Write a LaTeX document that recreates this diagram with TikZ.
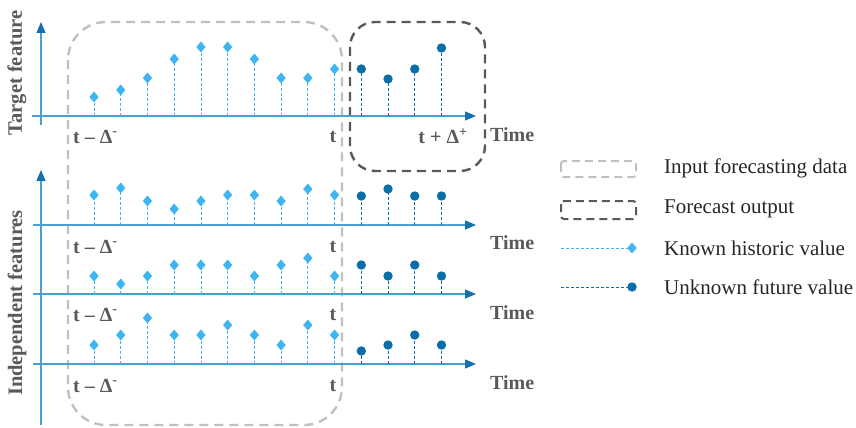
\documentclass[tikz,border=0pt]{standalone}
\usepackage{fontspec}
\setmainfont{Liberation Serif}
\usetikzlibrary{arrows.meta}
\definecolor{axisblue}{HTML}{4A9FD3}
\definecolor{arrowblue}{HTML}{1570AE}
\definecolor{knownblue}{HTML}{3DB5F2}
\definecolor{futureblue}{HTML}{0A6FA8}
\definecolor{lightbox}{HTML}{C0C0C0}
\definecolor{darkbox}{HTML}{595959}
\definecolor{labelgray}{HTML}{595959}
\definecolor{legendtext}{HTML}{262626}
\begin{document}
\begin{tikzpicture}[x=1pt,y=-1pt,
  axisline/.style={draw=axisblue,line width=1.2pt},
  axisarrow/.style={axisline,-{Triangle[length=11pt,width=9pt,color=arrowblue]}},
  knownstem/.style={draw=knownblue,line width=0.8pt,dash pattern=on 3pt off 2pt},
  futurestem/.style={draw=futureblue,line width=0.8pt,dash pattern=on 3pt off 2pt},
  inputbox/.style={draw=lightbox,line width=2.4pt,dash pattern=on 9pt off 6pt},
  outputbox/.style={draw=darkbox,line width=2.4pt,dash pattern=on 9pt off 6pt},
  ticklabel/.style={inner sep=0pt,text=labelgray,font=\fontsize{20}{22}\selectfont\bfseries},
  sidelabel/.style={inner sep=0pt,text=labelgray,font=\fontsize{20.5}{22}\selectfont\bfseries,rotate=90},
  legendlabel/.style={inner sep=0pt,anchor=west,text=legendtext,font=\fontsize{21}{23}\selectfont}]
\useasboundingbox (0,0) rectangle (856,428);

% ---------- dashed boxes ----------
\draw[inputbox,rounded corners=38pt] (68,22) rectangle (342,425);
\draw[outputbox,rounded corners=25pt] (350,22) rectangle (485,171);

% ---------- axes ----------
% target feature
\coordinate (tyb) at (41,125); \coordinate (tyt) at (41,22);
\coordinate (txl) at (32,116); \coordinate (txr) at (476,116);
\draw[axisarrow] (tyb) -- (tyt);
\draw[axisarrow] (txl) -- (txr);
% independent features
\coordinate (iyb) at (41,425); \coordinate (iyt) at (41,170);
\draw[axisarrow] (iyb) -- (iyt);
\coordinate (ax1l) at (33,225); \coordinate (ax1r) at (476,225);
\coordinate (ax2l) at (33,294); \coordinate (ax2r) at (476,294);
\coordinate (ax3l) at (33,364); \coordinate (ax3r) at (476,364);
\draw[axisarrow] (ax1l) -- (ax1r);
\draw[axisarrow] (ax2l) -- (ax2r);
\draw[axisarrow] (ax3l) -- (ax3r);

% ---------- stems and markers ----------
\foreach \base/\known/\future in {
  116/{97,90,78,59,47,47,59,78,78,69}/{69,79,69,48},
  225/{195,188,201,209,201,195,195,201,189,195}/{196,189,196,196},
  294/{276,284,276,265,265,265,276,265,258,276}/{265,276,265,276},
  364/{345,335,318,335,335,325,335,345,325,335}/{351,345,335,345}}{
  \foreach \v [count=\i from 0] in \known {
    \pgfmathsetmacro\xx{94+26.73*\i}
    \draw[knownstem] (\xx,\base) -- (\xx,\v);
    \fill[knownblue] (\xx,\v) +(0,-5.5) -- +(4.6,0) -- +(0,5.5) -- +(-4.6,0) -- cycle;
  }
  \foreach \v [count=\i from 10] in \future {
    \pgfmathsetmacro\xx{94+26.73*\i}
    \draw[futurestem] (\xx,\base) -- (\xx,\v);
    \fill[futureblue] (\xx,\v) circle (4.7pt);
  }
}

% ---------- axis labels ----------
\node[ticklabel,anchor=west] (tm0) at (73,137) {t – Δ\textsuperscript{-}};
\node[ticklabel] (t0) at (333,137) {t};
\node[ticklabel] (tp0) at (443,136) {t + Δ\textsuperscript{+}};
\node[ticklabel,anchor=west] (time0) at (490,135) {Time};

\node[ticklabel,anchor=west] (tm1) at (73,247) {t – Δ\textsuperscript{-}};
\node[ticklabel] (t1) at (333,247) {t};
\node[ticklabel,anchor=west] (time1) at (490,243) {Time};

\node[ticklabel,anchor=west] (tm2) at (73,315) {t – Δ\textsuperscript{-}};
\node[ticklabel] (t2) at (333,315) {t};
\node[ticklabel,anchor=west] (time2) at (490,313) {Time};

\node[ticklabel,anchor=west] (tm3) at (73,386) {t – Δ\textsuperscript{-}};
\node[ticklabel] (t3) at (333,386) {t};
\node[ticklabel,anchor=west] (time3) at (490,383) {Time};

\node[sidelabel] (ylab1) at (17,73) {Target feature};
\node[sidelabel] (ylab2) at (17,303) {Independent features};

% ---------- legend ----------
\draw[inputbox,line width=2pt,dash pattern=on 8pt off 5pt,rounded corners=3pt] (561,161) rectangle (636,177);
\draw[outputbox,line width=2pt,dash pattern=on 8pt off 5pt,rounded corners=3pt] (561,201) rectangle (636,219);
\coordinate (lk1) at (561,248); \coordinate (lk2) at (632,248);
\draw[knownstem] (lk1) -- (lk2);
\fill[knownblue] (lk2) +(0,-5.5) -- +(4.6,0) -- +(0,5.5) -- +(-4.6,0) -- cycle;
\coordinate (lf1) at (561,287); \coordinate (lf2) at (632,287);
\draw[futurestem] (lf1) -- (lf2);
\fill[futureblue] (lf2) circle (4.7pt);

\node[legendlabel] (leg1) at (664,168) {Input forecasting data};
\node[legendlabel] (leg2) at (664,209) {Forecast output};
\node[legendlabel] (leg3) at (664,248) {Known historic value};
\node[legendlabel] (leg4) at (664,287) {Unknown future value};
\end{tikzpicture}
\end{document}
